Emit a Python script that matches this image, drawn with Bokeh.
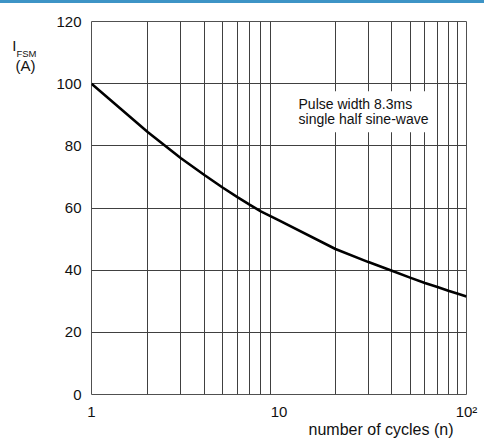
from bokeh.plotting import figure
from bokeh.models import FixedTicker, Label, Range1d, LinearAxis, LogAxis, Div
from bokeh.layouts import column
from bokeh.embed import file_html
from bokeh.resources import INLINE

# ---- data ----
cycles = [1, 2, 3, 4, 5, 6, 7, 8, 9, 10, 20, 30, 40, 50, 60, 70, 80, 90, 100]
ifsm = [100, 84.4, 76.0, 70.6, 66.6, 63.5, 61.0, 58.9, 57.4, 56.0,
        46.8, 42.6, 39.8, 37.6, 35.9, 34.6, 33.4, 32.4, 31.5]

y_ticks = [0, 20, 40, 60, 80, 100, 120]
x_major = [1, 10, 100]
x_minor = [2, 3, 4, 5, 6, 7, 8, 9, 20, 30, 40, 50, 60, 70, 80, 90]
x_tick_labels = {1: "1", 10: "10", 100: "10\u00b2"}
x_title = "number of cycles (n)"
y_title_main, y_title_sub, y_title_unit = "I", "FSM", "(A)"
note_lines = ["Pulse width 8.3ms", "single half sine-wave"]

FONT = "Liberation Sans"
GRID = "#404040"
TXT = "#111111"

p = figure(width=484, height=438, x_axis_type="log",
           x_range=Range1d(1, 100), y_range=Range1d(0, 120),
           output_backend="svg", toolbar_location=None,
           min_border_left=91, min_border_right=18,
           min_border_top=18, min_border_bottom=47, margin=0)

p.outline_line_color = "#505050"
p.outline_line_width = 1
p.background_fill_color = "white"
p.border_fill_color = "white"

# grids
p.xgrid.ticker = FixedTicker(ticks=x_minor)
p.ygrid.ticker = FixedTicker(ticks=y_ticks[1:-1])
for g in (p.xgrid, p.ygrid):
    g.grid_line_color = GRID
    g.grid_line_width = 1
    g.grid_line_alpha = 1


def style_axis(ax, size, standoff):
    ax.axis_line_color = None
    ax.major_tick_line_color = None
    ax.minor_tick_line_color = None
    ax.major_tick_out = 0
    ax.major_tick_in = 0
    ax.minor_tick_out = 0
    ax.minor_tick_in = 0
    ax.major_label_text_font = FONT
    ax.major_label_text_font_size = size
    ax.major_label_text_color = TXT
    ax.major_label_standoff = standoff


# main axes
xax = p.below[0]
yax = p.left[0]
xax.ticker = FixedTicker(ticks=x_major, minor_ticks=[])
xax.major_label_overrides = x_tick_labels
yax.ticker = FixedTicker(ticks=y_ticks, minor_ticks=[])
style_axis(xax, "15px", 8)
style_axis(yax, "15px", 10)


# axis titles placed as single tick labels of extra (line-less) axes
def title_axis(cls, tick, text, size, standoff, side):
    ax = cls(ticker=FixedTicker(ticks=[tick], minor_ticks=[]),
             major_label_overrides={tick: text})
    style_axis(ax, size, standoff)
    p.add_layout(ax, side)
    return ax


title_axis(LogAxis, 35, x_title, "16px", -2, "below")
title_axis(LinearAxis, 105.7, y_title_unit, "15px", 18, "left")
title_axis(LinearAxis, 112.2, y_title_main, "15px", -4, "left")
title_axis(LinearAxis, 109.6, y_title_sub, "9.5px", -27, "left")

# curve
p.line(cycles, ifsm, line_color="black", line_width=2.6)

# note: white box (drawn with the second line), then the first line
p.add_layout(Label(x=11.52, y=97.58, text=note_lines[1],
                   text_font=FONT, text_font_size="14px", text_color=TXT,
                   text_align="left", text_baseline="top",
                   background_fill_color="white",
                   padding=dict(left=8, right=3, top=20, bottom=5)))
p.add_layout(Label(x=11.52, y=97.58, text=note_lines[0],
                   text_font=FONT, text_font_size="14px", text_color=TXT,
                   text_align="left", text_baseline="top",
                   padding=dict(left=8, right=0, top=5, bottom=0)))

top_rule = Div(width=484, height=3, margin=0,
               styles={"background-color": "#3d94c6"})

layout = column(top_rule, p, spacing=0)
open("out.html", "w").write(file_html(layout, INLINE))
